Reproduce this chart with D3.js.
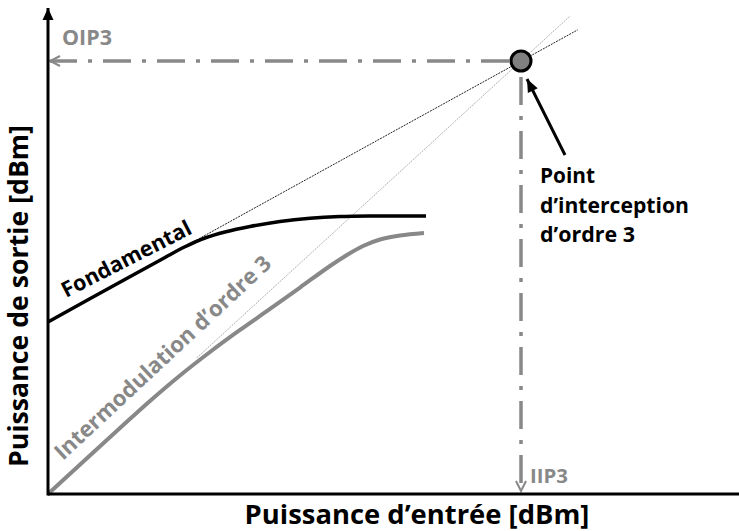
<!DOCTYPE html>
<html><head><meta charset="utf-8">
<script src="https://cdn.jsdelivr.net/npm/d3@7"></script>
<style>body{margin:0;background:#fff} svg{display:block}</style>
</head><body><svg id="c" width="739" height="531"></svg>
<script>
// ---- data (arbitrary units, intercept at 100/100) ----
const fundamentalIn  = [0, 15.86, 24.74, 28.96, 33.19, 37.42, 42.71, 49.05, 55.39, 61.73, 68.08, 79.92];
const fundamentalOut = [39.72, 49.31, 54.64, 57.09, 59.12, 60.51, 61.78, 62.93, 63.67, 64.07, 64.2, 64.2];
const im3In  = [0, 15.22, 21.56, 27.91, 34.25, 40.59, 46.93, 53.28, 59.62, 63.21, 66.6, 70.19, 74.42, 79.49];
const im3Out = [0, 15.22, 21.48, 27.37, 32.79, 37.88, 42.73, 47.69, 52.66, 55.2, 57.27, 58.78, 59.7, 60.28];
const fundExtrapIn  = [28, 112];
const fundExtrapOut = [56.6, 107.2];
const im3ExtrapIn  = [31.5, 110.4];
const im3ExtrapOut = [31.5, 110.4];
const IIP3 = 100, OIP3 = 100;
const labels = {
  xTitle: "Puissance d\u2019entrée [dBm]",
  yTitle: "Puissance de sortie [dBm]",
  fund: "Fondamental",
  im3: "Intermodulation d\u2019ordre 3",
  oip3: "OIP3", iip3: "IIP3",
  point: ["Point", "d\u2019interception", "d\u2019ordre 3"]
};

const svg = d3.select("#c");
const W = 739, H = 531;
const x = d3.scaleLinear().domain([0, 100]).range([48, 521]);
const y = d3.scaleLinear().domain([0, 100]).range([494, 61]);
const gray = "#888888";
const font = "'Open Sans', 'Noto Sans', sans-serif";

const defs = svg.append("defs");
defs.append("marker").attr("id","arrAxis").attr("markerUnits","userSpaceOnUse")
  .attr("viewBox","-12 -6 14 12").attr("refX",0).attr("refY",0)
  .attr("markerWidth",14).attr("markerHeight",12).attr("orient","auto")
  .append("path").attr("d","M-12,-5.5L0,0L-12,5.5Z").attr("fill","#000");
defs.append("marker").attr("id","arrGray").attr("markerUnits","userSpaceOnUse")
  .attr("viewBox","-12 -7 14 14").attr("refX",0).attr("refY",0)
  .attr("markerWidth",14).attr("markerHeight",14).attr("orient","auto")
  .append("path").attr("d","M-10,-5L0,0L-10,5").attr("fill","none")
  .attr("stroke",gray).attr("stroke-width",2);
defs.append("marker").attr("id","arrBlack").attr("markerUnits","userSpaceOnUse")
  .attr("viewBox","-14 -7 16 14").attr("refX",0).attr("refY",0)
  .attr("markerWidth",16).attr("markerHeight",14).attr("orient","auto")
  .append("path").attr("d","M-13,-5.5L0,0L-13,5.5Z").attr("fill","#000");

const zip = (a, b) => a.map((v, i) => [v, b[i]]);
const line = d3.line().x(d => x(d[0])).y(d => y(d[1]));
const curve = d3.line().x(d => x(d[0])).y(d => y(d[1])).curve(d3.curveCatmullRom.alpha(0.5));

// extrapolation lines
svg.append("path").attr("d", line(zip(fundExtrapIn, fundExtrapOut)))
  .attr("fill","none").attr("stroke","#222").attr("stroke-width",1).attr("stroke-dasharray","2,1");
svg.append("path").attr("d", line(zip(im3ExtrapIn, im3ExtrapOut)))
  .attr("fill","none").attr("stroke","#aaa").attr("stroke-width",1).attr("stroke-dasharray","1.5,1");

// curves
svg.append("path").attr("d", curve(zip(fundamentalIn, fundamentalOut)))
  .attr("fill","none").attr("stroke","#000").attr("stroke-width",3.5);
svg.append("path").attr("d", curve(zip(im3In, im3Out)))
  .attr("fill","none").attr("stroke",gray).attr("stroke-width",4);

// dash-dot lines to axes
svg.append("line").attr("x1", x(IIP3) - 12).attr("y1", y(OIP3)).attr("x2", x(0) + 2).attr("y2", y(OIP3))
  .attr("stroke",gray).attr("stroke-width",3.5).attr("stroke-dasharray","28,11,4,11")
  .attr("marker-end","url(#arrGray)");
svg.append("line").attr("x1", x(IIP3)).attr("y1", y(OIP3) + 16).attr("x2", x(IIP3)).attr("y2", y(0) - 3)
  .attr("stroke",gray).attr("stroke-width",3.5).attr("stroke-dasharray","28,11,4,11")
  .attr("marker-end","url(#arrGray)");

// axes
svg.append("line").attr("x1", x(0)).attr("y1", y(0)).attr("x2", W).attr("y2", y(0))
  .attr("stroke","#000").attr("stroke-width",3);
svg.append("line").attr("x1", x(0)).attr("y1", y(0) + 1.5).attr("x2", x(0)).attr("y2", 8)
  .attr("stroke","#000").attr("stroke-width",3).attr("marker-end","url(#arrAxis)");

// intercept point
svg.append("circle").attr("cx", x(IIP3)).attr("cy", y(OIP3)).attr("r", 10)
  .attr("fill","#808080").attr("stroke","#000").attr("stroke-width",3);

// annotation arrow
svg.append("line").attr("x1", 565).attr("y1", 155).attr("x2", 527).attr("y2", 79)
  .attr("stroke","#000").attr("stroke-width",3).attr("marker-end","url(#arrBlack)");

// texts (font size fitted to the reference text width)
const t = (txt, xx, yy, width, opts = {}) => {
  const el = svg.append("text").text(txt)
    .attr("x", xx).attr("y", yy).attr("font-family", font).attr("font-weight", "bold")
    .attr("font-size", 20).attr("fill", opts.fill || "#000")
    .attr("text-anchor", opts.anchor || "start")
    .attr("transform", opts.rot ? `rotate(${opts.rot},${xx},${yy})` : null);
  const w = el.node().getComputedTextLength();
  el.attr("font-size", 20 * width / w);
  return el;
};

t(labels.xTitle, 417, 524, 345, {anchor: "middle"});
t(labels.yTitle, 28, 296, 342, {anchor: "middle", rot: -90});
t(labels.oip3, 62, 45, 50, {fill: gray});
t(labels.iip3, 530, 483, 38, {fill: gray});
t(labels.point[0], 540, 183, 55);
t(labels.point[1], 540, 213, 149);
t(labels.point[2], 540, 242, 95);
t(labels.fund, 66, 298, 143, {rot: -27});
t(labels.im3, 63, 461, 287, {fill: gray, rot: -43});
</script></body></html>
